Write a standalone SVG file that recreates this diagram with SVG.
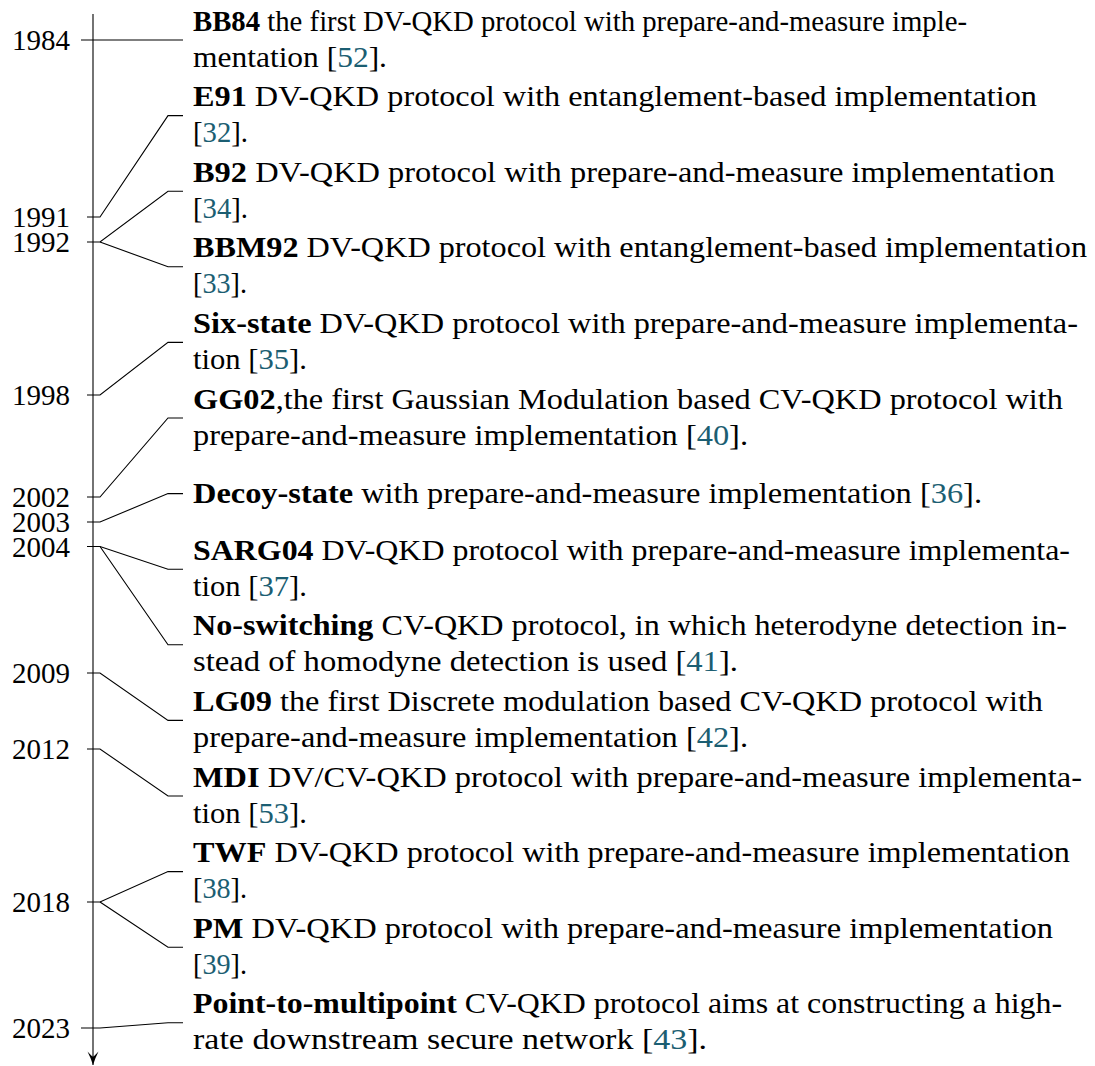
<svg xmlns="http://www.w3.org/2000/svg" width="1095" height="1066" viewBox="0 0 1095 1066">
  <style>
    .t { font-family: "Liberation Serif", "Times New Roman", serif; font-size: 29.5px; fill: #000; }
    .yr { font-family: "Liberation Serif", "Times New Roman", serif; font-size: 29px; fill: #000; }
    .b { font-weight: bold; }
    .c { fill: #1b5e72; }
    .ln { stroke: #000; stroke-width: 1.1; fill: none; }
  </style>
  <defs>
    <!-- curved-barb arrow tip, drawn along +x so orient="auto" turns it with the axis -->
    <marker id="arrow" viewBox="0 0 16 14" refX="15" refY="7" markerWidth="16" markerHeight="14" markerUnits="userSpaceOnUse" orient="auto">
      <path d="M15,7 C10.5,5.6 6,3.8 1.5,1.5 C4.2,3.8 5.8,5.6 6.8,7 C5.8,8.4 4.2,10.2 1.5,12.5 C6,10.2 10.5,8.4 15,7 Z" fill="#000"/>
    </marker>
  </defs>

  <!-- time axis -->
  <g id="axis">
    <line class="ln" x1="93" y1="14" x2="93" y2="1065" marker-end="url(#arrow)"/>
  </g>

  <!-- year labels -->
  <g id="years" class="yr">
    <text id="y1984" x="12" y="49.5" textLength="58" lengthAdjust="spacingAndGlyphs">1984</text>
    <text id="y1991" x="12" y="226.5" textLength="58" lengthAdjust="spacingAndGlyphs">1991</text>
    <text id="y1992" x="12" y="251.5" textLength="58" lengthAdjust="spacingAndGlyphs">1992</text>
    <text id="y1998" x="12" y="404.5" textLength="58" lengthAdjust="spacingAndGlyphs">1998</text>
    <text id="y2002" x="12" y="506.5" textLength="58" lengthAdjust="spacingAndGlyphs">2002</text>
    <text id="y2003" x="12" y="531.5" textLength="58" lengthAdjust="spacingAndGlyphs">2003</text>
    <text id="y2004" x="12" y="556.5" textLength="58" lengthAdjust="spacingAndGlyphs">2004</text>
    <text id="y2009" x="12" y="682.5" textLength="58" lengthAdjust="spacingAndGlyphs">2009</text>
    <text id="y2012" x="12" y="758.5" textLength="58" lengthAdjust="spacingAndGlyphs">2012</text>
    <text id="y2018" x="12" y="911.5" textLength="58" lengthAdjust="spacingAndGlyphs">2018</text>
    <text id="y2023" x="12" y="1037.5" textLength="58" lengthAdjust="spacingAndGlyphs">2023</text>
  </g>

  <!-- connectors: tick on the axis, slanted leader, short horizontal into the entry -->
  <g id="connectors" class="ln">
    <polyline points="81,40 183,40"/>
    <polyline points="87,217 100,217 168,115.6 183,115.6"/>
    <polyline points="87,242 100,242 168,191.2 183,191.2"/>
    <polyline points="100,242 168,266.8 183,266.8"/>
    <polyline points="87,395 100,395 168,342.4 183,342.4"/>
    <polyline points="87,497 100,497 168,418 183,418"/>
    <polyline points="87,522 100,522 168,493.6 183,493.6"/>
    <polyline points="87,546.5 100,546.5 168,569.2 183,569.2"/>
    <polyline points="100,546.5 168,644.8 183,644.8"/>
    <polyline points="87,673 100,673 168,720.4 183,720.4"/>
    <polyline points="87,749 100,749 168,796 183,796"/>
    <polyline points="87,902 100,902 168,871.6 183,871.6"/>
    <polyline points="100,902 168,947.2 183,947.2"/>
    <polyline points="81,1028 100,1028 168,1022.8 183,1022.8"/>
  </g>

  <!-- protocol entries -->
  <g id="bb84" class="t">
    <text x="193" y="30.5" textLength="774" lengthAdjust="spacingAndGlyphs"><tspan class="b">BB84</tspan> the first DV-QKD protocol with prepare-and-measure imple-</text>
    <text x="193" y="66.5" textLength="194" lengthAdjust="spacingAndGlyphs">mentation [<tspan class="c">52</tspan>].</text>
  </g>
  <g id="e91" class="t">
    <text x="193" y="106" textLength="844" lengthAdjust="spacingAndGlyphs"><tspan class="b">E91</tspan> DV-QKD protocol with entanglement-based implementation</text>
    <text x="193" y="142" textLength="55" lengthAdjust="spacingAndGlyphs">[<tspan class="c">32</tspan>].</text>
  </g>
  <g id="b92" class="t">
    <text x="193" y="181.7" textLength="862" lengthAdjust="spacingAndGlyphs"><tspan class="b">B92</tspan> DV-QKD protocol with prepare-and-measure implementation</text>
    <text x="193" y="217.7" textLength="55" lengthAdjust="spacingAndGlyphs">[<tspan class="c">34</tspan>].</text>
  </g>
  <g id="bbm92" class="t">
    <text x="193" y="257.3" textLength="894" lengthAdjust="spacingAndGlyphs"><tspan class="b">BBM92</tspan> DV-QKD protocol with entanglement-based implementation</text>
    <text x="193" y="293.3" textLength="54" lengthAdjust="spacingAndGlyphs">[<tspan class="c">33</tspan>].</text>
  </g>
  <g id="six-state" class="t">
    <text x="193" y="332.9" textLength="885" lengthAdjust="spacingAndGlyphs"><tspan class="b">Six-state</tspan> DV-QKD protocol with prepare-and-measure implementa-</text>
    <text x="193" y="368.9" textLength="114" lengthAdjust="spacingAndGlyphs">tion [<tspan class="c">35</tspan>].</text>
  </g>
  <g id="gg02" class="t">
    <text x="193" y="408.5" textLength="870" lengthAdjust="spacingAndGlyphs"><tspan class="b">GG02</tspan>,the first Gaussian Modulation based CV-QKD protocol with</text>
    <text x="193" y="444.5" textLength="555" lengthAdjust="spacingAndGlyphs">prepare-and-measure implementation [<tspan class="c">40</tspan>].</text>
  </g>
  <g id="decoy-state" class="t">
    <text x="193" y="502.5" textLength="789" lengthAdjust="spacingAndGlyphs"><tspan class="b">Decoy-state</tspan> with prepare-and-measure implementation [<tspan class="c">36</tspan>].</text>
  </g>
  <g id="sarg04" class="t">
    <text x="193" y="559.7" textLength="877" lengthAdjust="spacingAndGlyphs"><tspan class="b">SARG04</tspan> DV-QKD protocol with prepare-and-measure implementa-</text>
    <text x="193" y="595.7" textLength="114" lengthAdjust="spacingAndGlyphs">tion [<tspan class="c">37</tspan>].</text>
  </g>
  <g id="no-switching" class="t">
    <text x="193" y="635.3" textLength="874" lengthAdjust="spacingAndGlyphs"><tspan class="b">No-switching</tspan> CV-QKD protocol, in which heterodyne detection in-</text>
    <text x="193" y="671.3" textLength="545" lengthAdjust="spacingAndGlyphs">stead of homodyne detection is used [<tspan class="c">41</tspan>].</text>
  </g>
  <g id="lg09" class="t">
    <text x="193" y="710.9" textLength="850" lengthAdjust="spacingAndGlyphs"><tspan class="b">LG09</tspan> the first Discrete modulation based CV-QKD protocol with</text>
    <text x="193" y="746.9" textLength="555" lengthAdjust="spacingAndGlyphs">prepare-and-measure implementation [<tspan class="c">42</tspan>].</text>
  </g>
  <g id="mdi" class="t">
    <text x="193" y="786.5" textLength="889" lengthAdjust="spacingAndGlyphs"><tspan class="b">MDI</tspan> DV/CV-QKD protocol with prepare-and-measure implementa-</text>
    <text x="193" y="822.5" textLength="114" lengthAdjust="spacingAndGlyphs">tion [<tspan class="c">53</tspan>].</text>
  </g>
  <g id="twf" class="t">
    <text x="193" y="862.1" textLength="877" lengthAdjust="spacingAndGlyphs"><tspan class="b">TWF</tspan> DV-QKD protocol with prepare-and-measure implementation</text>
    <text x="193" y="898.1" textLength="54" lengthAdjust="spacingAndGlyphs">[<tspan class="c">38</tspan>].</text>
  </g>
  <g id="pm" class="t">
    <text x="193" y="937.7" textLength="860" lengthAdjust="spacingAndGlyphs"><tspan class="b">PM</tspan> DV-QKD protocol with prepare-and-measure implementation</text>
    <text x="193" y="973.7" textLength="54" lengthAdjust="spacingAndGlyphs">[<tspan class="c">39</tspan>].</text>
  </g>
  <g id="point-to-multipoint" class="t">
    <text x="193" y="1013.3" textLength="869" lengthAdjust="spacingAndGlyphs"><tspan class="b">Point-to-multipoint</tspan> CV-QKD protocol aims at constructing a high-</text>
    <text x="193" y="1049.3" textLength="514" lengthAdjust="spacingAndGlyphs">rate downstream secure network [<tspan class="c">43</tspan>].</text>
  </g>
</svg>
